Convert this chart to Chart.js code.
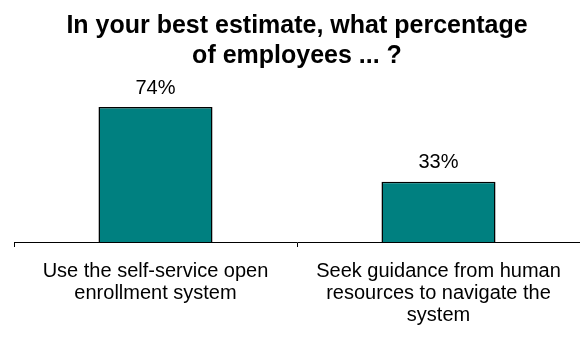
<!DOCTYPE html>
<html>
<head>
<meta charset="utf-8">
<style>
  html, body { margin: 0; padding: 0; background: #fff; }
  #wrap { width: 580px; height: 341px; }
</style>
<script src="https://cdn.jsdelivr.net/npm/chart.js@4/dist/chart.umd.min.js"></script>
</head>
<body>
<div id="wrap"><canvas id="chart" width="580" height="341"></canvas></div>
<script>
// Survey responses: share of employees per behaviour
const categories = [
  ['Use the self-service open', 'enrollment system'],
  ['Seek guidance from human', 'resources to navigate the', 'system']
];
const percentages = [74, 33];
const valueLabels = ['74%', '33%'];
const titleLines = ['In your best estimate, what percentage', 'of employees ... ?'];

const FONT = "'Liberation Sans', Arial, Helvetica, sans-serif";

// Writes the percentage above each bar
const barValueLabels = {
  id: 'barValueLabels',
  afterDatasetsDraw(chart) {
    const ctx = chart.ctx;
    const meta = chart.getDatasetMeta(0);
    ctx.save();
    ctx.font = '20px ' + FONT;
    ctx.fillStyle = '#000';
    ctx.textAlign = 'center';
    ctx.textBaseline = 'middle';
    meta.data.forEach((bar, i) => {
      ctx.fillText(valueLabels[i], bar.x, bar.y - 19);
    });
    ctx.restore();
  }
};

new Chart(document.getElementById('chart'), {
  type: 'bar',
  data: {
    labels: categories,
    datasets: [{
      data: percentages,
      backgroundColor: '#008080',
      borderColor: '#000',
      borderWidth: 1.5,
      categoryPercentage: 1,
      barPercentage: 0.403
    }]
  },
  options: {
    responsive: false,
    animation: false,
    events: [],
    layout: { padding: { left: 14, right: 0, top: 0, bottom: 0 } },
    plugins: {
      legend: { display: false },
      tooltip: { enabled: false },
      title: {
        display: true,
        text: titleLines,
        color: '#000',
        font: { family: FONT, size: 25, weight: 'bold', lineHeight: 1.2 },
        padding: { top: 11, bottom: 0 }
      }
    },
    scales: {
      x: {
        offset: true,
        grid: {
          display: true,
          drawOnChartArea: false,
          drawTicks: true,
          tickLength: 5,
          color: '#000',
          offset: true
        },
        border: { display: true, color: '#000', width: 1 },
        ticks: {
          color: '#000',
          padding: 14,
          maxRotation: 0,
          autoSkip: false,
          font: { family: FONT, size: 20, lineHeight: 1.08 }
        },
        afterFit(scale) { scale.height = 99; }
      },
      y: {
        display: false,
        min: 0,
        max: 93.8
      }
    }
  },
  plugins: [barValueLabels]
});
</script>
</body>
</html>
